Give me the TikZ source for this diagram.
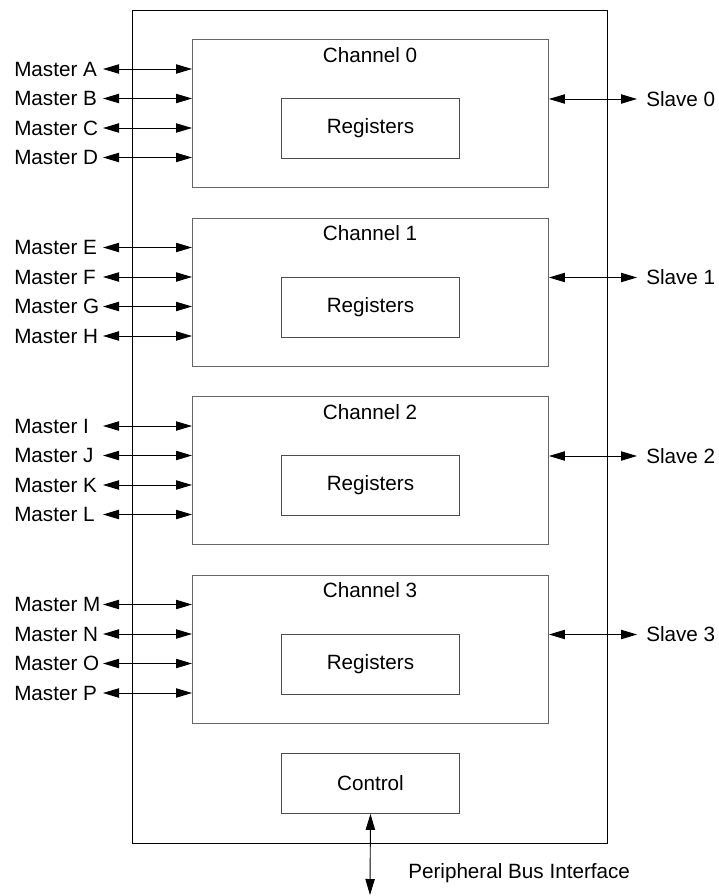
\documentclass[tikz,border=0pt]{standalone}
\usepackage{fontspec}
\setmainfont{Liberation Sans}
\usetikzlibrary{arrows.meta}
\begin{document}
\begin{tikzpicture}[
	x=0.75pt, y=-0.75pt,
	font=\fontsize{15.5}{18}\selectfont,
	box/.style={ draw, line width=0.7pt, anchor=north west, inner sep=0pt },
	chanbox/.style={ box, draw=black!60, minimum width=267pt, minimum height=111pt },
	regbox/.style={ box, draw=black!70, minimum width=133.5pt, minimum height=45pt },
	lbl/.style={ anchor=west, inner sep=0pt },
	link/.style={ line width=0.7pt, {Triangle[length=12pt,width=7pt]}-{Triangle[length=12pt,width=7pt]} }
]
\useasboundingbox (0,0) rectangle (718,896);

\node[box, minimum width=356pt, minimum height=625pt] (dma) at (132,9.5) {};
\foreach \c in {0,...,3} {
	\node[chanbox] (ch\c) at (192,{39+178.5*\c}) {};
	\node[anchor=north, inner sep=0pt] (t\c) at (370,{47+178.5*\c}) {Channel \c};
	\node[regbox] (reg\c) at (281,{98+178.5*\c}) {Registers};
	\coordinate (s\c) at (637,{99+178.5*\c});
	\node[lbl] (sl\c) at (646,{99+178.5*\c}) {Slave \c};
	\draw[link] (ch\c.east |- s\c) -- (s\c);
}
\foreach \m [count=\j from 0] in {A,B,C,D,E,F,G,H,I,J,K,L,M,N,O,P} {
	\pgfmathtruncatemacro{\c}{\j/4}
	\pgfmathsetmacro{\ypos}{69+29.5*mod(\j,4)+178.5*\c}
	\node[lbl] (m\m) at (14,\ypos) {Master \m};
	\coordinate (a\m) at (103,\ypos);
	\draw[link] (a\m) -- (a\m -| ch\c.west);
}
\node[regbox] (ctrl) at (281,753) {Control};
\coordinate (bus) at (370,895);
\draw[link] (ctrl.south) -- (bus);
\node[lbl] (busl) at (408,873) {Peripheral Bus Interface};

\end{tikzpicture}
\end{document}
